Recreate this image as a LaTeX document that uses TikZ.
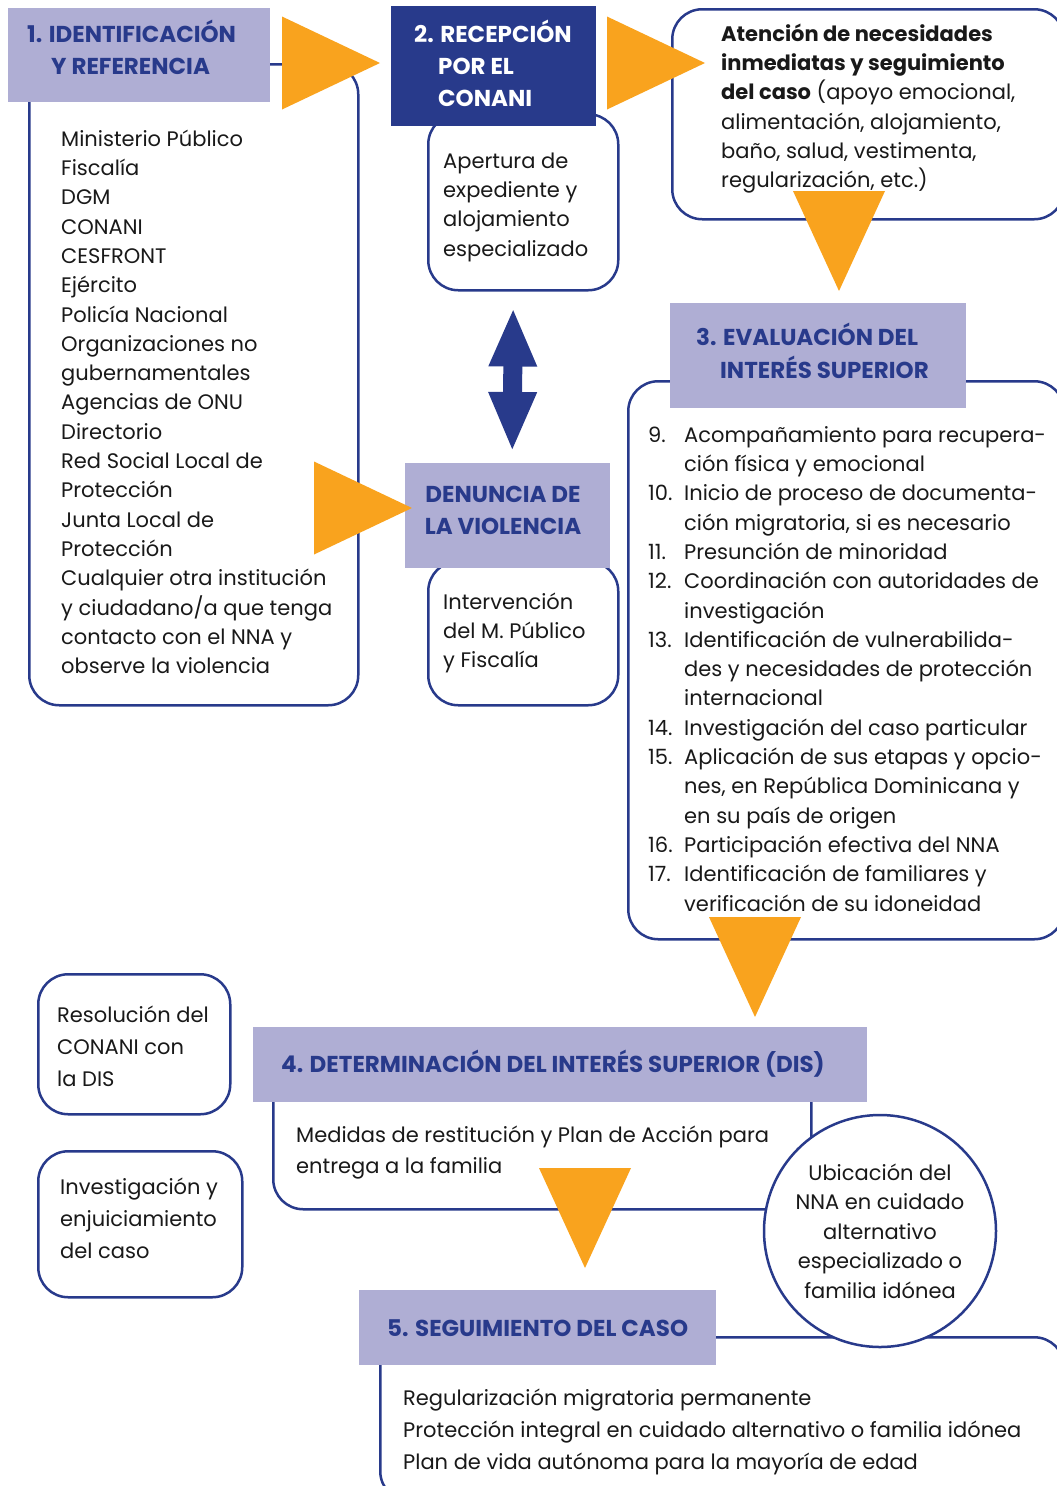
\documentclass[tikz,border=0pt]{standalone}
\usepackage{fontspec}
\setmainfont{Poppins}
\usetikzlibrary{
  arrows.meta,
  shapes.geometric,
}
\definecolor{navy}{HTML}{283A8B}
\definecolor{lilac}{HTML}{AFAED4}
\definecolor{amber}{HTML}{F9A31E}
\newcommand{\numitem}[1]{\makebox[36pt][l]{#1}}
\newcommand{\capindent}{\hspace*{24pt}}

\begin{document}
\begin{tikzpicture}[
  x=1pt,
  y=-1pt,
  frame/.style={
    draw=navy,
    line width=2.5pt,
    rounded corners=30pt,
    fill=white,
    inner sep=0pt,
    anchor=north west,
  },
  head/.style={
    fill=lilac,
    inner sep=0pt,
    anchor=north west,
  },
  dark head/.style={
    head,
    fill=navy,
  },
  title/.style={
    text=navy,
    font={\bfseries\fontsize{23}{32}\selectfont},
    align=left,
    inner sep=0pt,
    anchor=north west,
  },
  body/.style={
    font={\fontsize{21}{29.3}\selectfont},
    text=black!90,
    align=left,
    inner sep=0pt,
    anchor=north west,
  },
  wide body/.style={
    body,
    font={\fontsize{21}{32}\selectfont},
  },
  pointer/.style={
    isosceles triangle,
    isosceles triangle stretches,
    fill=amber,
    inner sep=0pt,
    outer sep=0pt,
    minimum width=93pt,
    minimum height=98pt,
    anchor=apex,
  },
  down pointer/.style={
    pointer,
    rotate=-90,
    minimum width=92pt,
    minimum height=100pt,
  },
  twoway/.style={
    navy,
    line width=19pt,
    {Triangle[length=59pt,width=44pt]}-{Triangle[length=60pt,width=44pt]},
  },
]
  \useasboundingbox (0,0) rectangle (1057,1486);
  \clip (0,0) rectangle (1057,1486);

  %%%%%%%%%%%%%%%%%%%% FRAMES %%%%%%%%%%%%%%%%%%%%

  \node[frame, minimum width=329pt, minimum height=641pt] (refbox) at (28,63) {};
  \node[frame, minimum width=190pt, minimum height=176pt] (aperturabox) at (427,113) {};
  \node[frame, minimum width=392pt, minimum height=210pt] (atencionbox) at (671,8) {};
  \node[frame, minimum width=436pt, minimum height=558pt] (evalbox) at (627,380) {};
  \node[frame, minimum width=190pt, minimum height=144pt] (intervbox) at (427,560) {};
  \node[frame, minimum width=192pt, minimum height=140pt] (resolbox) at (37,973) {};
  \node[frame, minimum width=204pt, minimum height=146pt] (investbox) at (37,1150) {};
  \node[frame, minimum width=538pt, minimum height=148pt] (medidasbox) at (272,1060) {};
  \node[frame, minimum width=684pt, minimum height=164pt] (seguibox) at (379,1336) {};

  %%%%%%%%%%%%%%%%%%%% HEADINGS %%%%%%%%%%%%%%%%%%%%

  \node[head, minimum width=262pt, minimum height=94pt] (refhead) at (8,8) {};
  \node[dark head, minimum width=205pt, minimum height=120pt] (conanihead) at (391,6) {};
  \node[head, minimum width=296pt, minimum height=105pt] (evalhead) at (670,303) {};
  \node[head, minimum width=205pt, minimum height=105pt] (denunciahead) at (405,463) {};
  \node[head, minimum width=614pt, minimum height=75pt] (dishead) at (253,1027) {};
  \node[head, minimum width=357pt, minimum height=75pt] (seguihead) at (359,1290) {};

  \node[title] (reftitle) at (27,19.6)
    {\strut 1. IDENTIFICACIÓN\\\capindent Y REFERENCIA};
  \node[title, text=white] (conanititle) at (414,19.6)
    {\strut 2. RECEPCIÓN\\\capindent POR EL\\\capindent CONANI};
  \node[title, font={\bfseries\fontsize{23}{31}\selectfont}] (evaltitle) at (696,322.6)
    {\strut 3. EVALUACIÓN DEL\\\capindent INTERÉS SUPERIOR};
  \node[title, align=center, anchor=north] (denunciatitle) at (503,479.6)
    {\strut DENUNCIA DE\\LA VIOLENCIA};
  \node[title] (distitle) at (281,1049.6)
    {\strut 4. DETERMINACIÓN DEL INTERÉS SUPERIOR (DIS)};
  \node[title] (seguititle) at (387,1313.6)
    {\strut 5. SEGUIMIENTO DEL CASO};

  \node[circle, draw=navy, line width=2.5pt, fill=white, inner sep=0pt,
    minimum size=232pt, align=center, text=black!90,
    font={\fontsize{21}{29.5}\selectfont}] (ubicacion) at (880,1231)
    {Ubicación del\\NNA en cuidado\\alternativo\\especializado o\\familia idónea};

  %%%%%%%%%%%%%%%%%%%% POINTERS %%%%%%%%%%%%%%%%%%%%

  \node[pointer] (toconani) at (380,63) {};
  \node[pointer] (toatencion) at (705,63) {};
  \node[pointer] (todenuncia) at (412,508) {};
  \node[down pointer] (toeval) at (839,291) {};
  \node[down pointer] (todis) at (755,1017) {};
  \node[down pointer] (toseguimiento) at (585,1268) {};

  \draw[twoway, shorten <=16pt, shorten >=11pt]
    ([xshift=-10pt]aperturabox.south) -- ([xshift=4.5pt]denunciahead.north);

  %%%%%%%%%%%%%%%%%%%% TEXTS %%%%%%%%%%%%%%%%%%%%

  \node[body] (reftext) at (61,125.5) {\strut Ministerio Público\\
    Fiscalía\\
    DGM\\
    CONANI\\
    CESFRONT\\
    Ejército\\
    Policía Nacional\\
    Organizaciones no\\
    gubernamentales\\
    Agencias de ONU\\
    Directorio\\
    Red Social Local de\\
    Protección\\
    Junta Local de\\
    Protección\\
    Cualquier otra institución\\
    y ciudadano/a que tenga\\
    contacto con el NNA y\\
    observe la violencia};

  \node[body] (apertext) at (443,147.5)
    {\strut Apertura de\\expediente y\\alojamiento\\especializado};

  \node[body] (atenciontext) at (721,20.5) {\strut \textbf{Atención de necesidades}\\
    \textbf{inmediatas y seguimiento}\\
    \textbf{del caso} (apoyo emocional,\\
    alimentación, alojamiento,\\
    baño, salud, vestimenta,\\
    regularización, etc.)};

  \node[body] (evaltext) at (648,421.5) {\strut \numitem{9.}Acompañamiento para recupera-\\
    \numitem{}ción física y emocional\\
    \numitem{10.}Inicio de proceso de documenta-\\
    \numitem{}ción migratoria, si es necesario\\
    \numitem{11.}Presunción de minoridad\\
    \numitem{12.}Coordinación con autoridades de\\
    \numitem{}investigación\\
    \numitem{13.}Identificación de vulnerabilida-\\
    \numitem{}des y necesidades de protección\\
    \numitem{}internacional\\
    \numitem{14.}Investigación del caso particular\\
    \numitem{15.}Aplicación de sus etapas y opcio-\\
    \numitem{}nes, en República Dominicana y\\
    \numitem{}en su país de origen\\
    \numitem{16.}Participación efectiva del NNA\\
    \numitem{17.}Identificación de familiares y\\
    \numitem{}verificación de su idoneidad};

  \node[body] (intervtext) at (443,588.5)
    {\strut Intervención\\del M. Público\\y Fiscalía};

  \node[wide body] (resoltext) at (57,999.6)
    {\strut Resolución del\\CONANI con\\la DIS};
  \node[wide body] (investtext) at (60,1171.6)
    {\strut Investigación y\\enjuiciamiento\\del caso};

  \node[wide body, font={\fontsize{21}{31}\selectfont}] (medidastext) at (296,1120.6)
    {\strut Medidas de restitución y Plan de Acción para\\entrega a la familia};

  \node[wide body] (seguitext) at (403,1382.6)
    {\strut Regularización migratoria permanente\\
    Protección integral en cuidado alternativo o familia idónea\\
    Plan de vida autónoma para la mayoría de edad};
\end{tikzpicture}
\end{document}
